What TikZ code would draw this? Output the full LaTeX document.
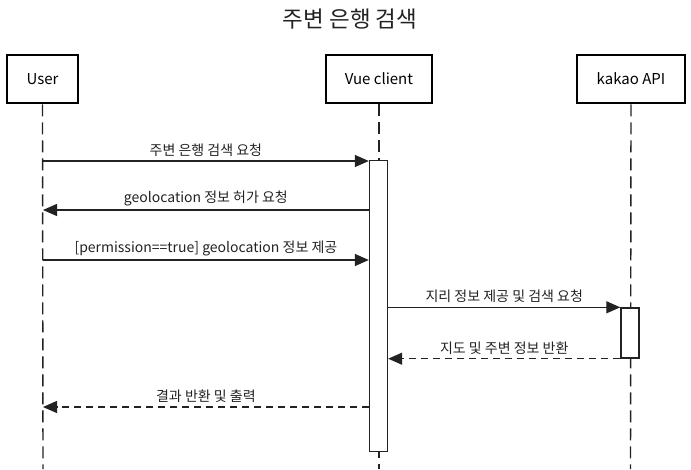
\documentclass[tikz,border=0pt]{standalone}
\usepackage{fontspec}
\setmainfont{Noto Sans CJK KR}
\usepackage{tikz}
\usetikzlibrary{arrows.meta}
\definecolor{linegray}{RGB}{34,34,34}

\tikzset{
	actor/.style={draw=black,line width=2.8pt,fill=white,minimum width=71pt,minimum height=48pt,inner sep=0pt,font=\fontsize{15}{18}\selectfont},
	life/.style={draw=linegray,line width=1.4pt,dash pattern=on 12pt off 6pt},
	act/.style={draw=linegray,line width=1.4pt,fill=white,minimum width=18pt,inner sep=0pt},
	msg/.style={draw=linegray,line width=1.3pt,-{Triangle[length=14pt,width=12pt]}},
	ret/.style={msg,dash pattern=on 7pt off 5pt},
	lbl/.style={above=0.5pt,midway,text=linegray,font=\fontsize{14}{17}\selectfont}
}

\begin{document}
\begin{tikzpicture}[x=1pt,y=-1pt]
			\useasboundingbox (0,0) rectangle (691,469);
			\coordinate (user_end) at (43,469);
			\coordinate (vue_end) at (379,469);
			\coordinate (kakao_end) at (630.5,469);
	
			\node[text=linegray,font=\fontsize{22.5}{26}\selectfont] (title) at (350,19) {주변 은행 검색};
			\node[actor] (User) at (42.5,79) {User};
			\node[actor,minimum width=106pt] (Vue) at (379,79) {Vue client};
			\node[actor,minimum width=108pt] (Kakao) at (631,79) {kakao API};
			
			\draw[life] (User.south) -- (user_end);
			\draw[life] (Vue.south) -- (vue_end);
			\draw[life] (Kakao.south) -- (kakao_end);
			
			\node[act,minimum height=291pt] (vue_act) at (378.5,306) {};
			\node[act,minimum height=50pt] (kakao_act) at (630,333) {};
			
			\coordinate (m1) at (43,161);
			\coordinate (m2) at (43,210);
			\coordinate (m3) at (43,260);
			\coordinate (m4) at (kakao_act.north west);
			\coordinate (m5) at (kakao_act.south west);
			\coordinate (m6) at (43,407);
			
			\draw[msg] (m1) -- (m1 -| vue_act.west) node[lbl] {주변 은행 검색 요청};
			\draw[msg] (m2 -| vue_act.west) -- (m2) node[lbl] {geolocation 정보 허가 요청};
			\draw[msg] (m3) -- (m3 -| vue_act.west) node[lbl] {[permission==true] geolocation 정보 제공};
			\draw[msg] (m4 -| vue_act.east) -- (m4) node[lbl] {지리 정보 제공 및 검색 요청};
			\draw[ret] (m5) -- (m5 -| vue_act.east) node[lbl] {지도 및 주변 정보 반환};
			\draw[ret] (m6 -| vue_act.west) -- (m6) node[lbl] {결과 반환 및 출력};
		\end{tikzpicture}
\end{document}
